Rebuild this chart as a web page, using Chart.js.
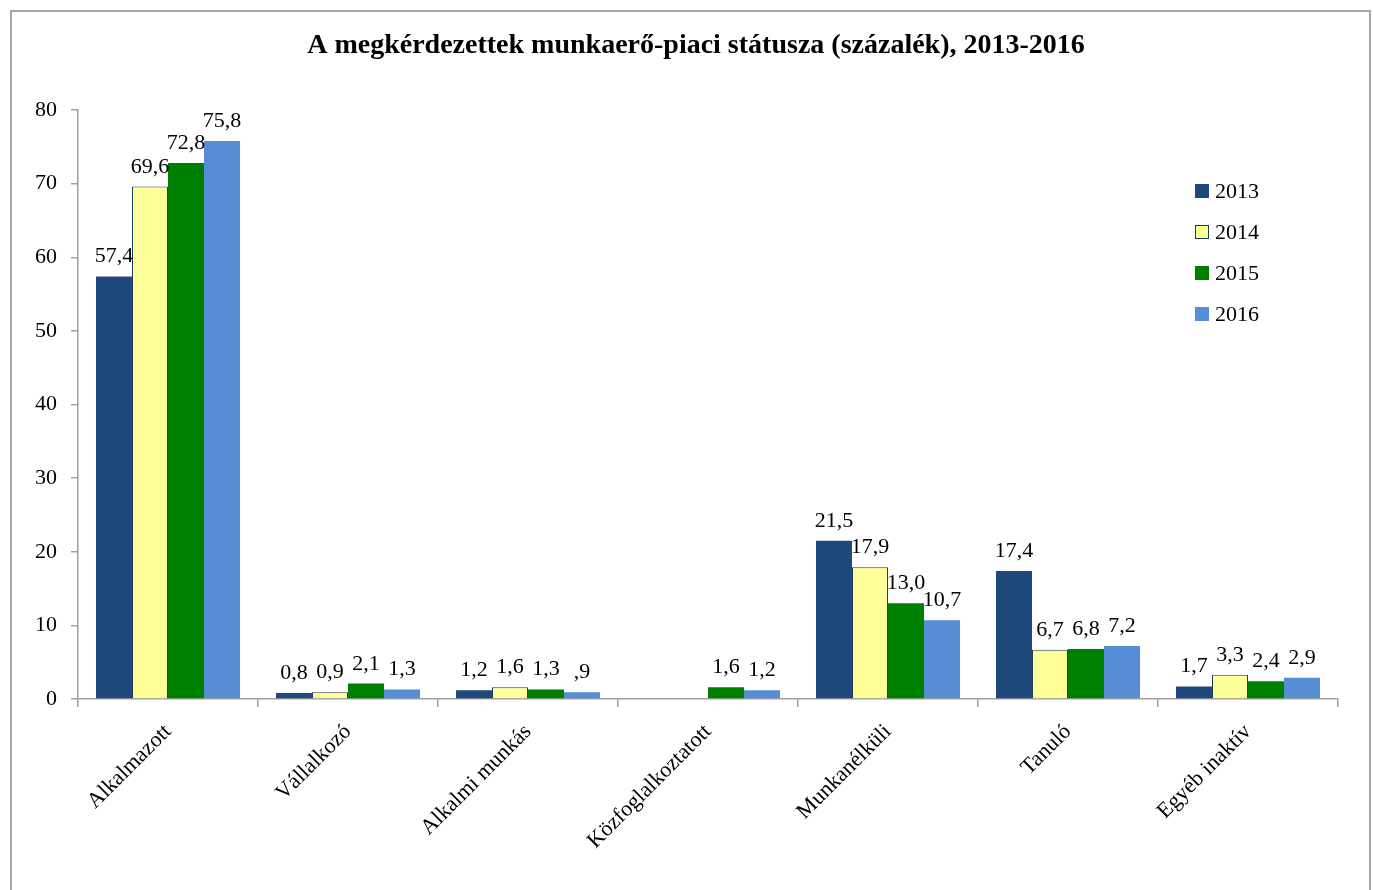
<!DOCTYPE html>
<html>
<head>
<meta charset="utf-8">
<script src="https://cdn.jsdelivr.net/npm/chart.js@4"></script>
<style>
  html, body { margin: 0; padding: 0; background: #fff; }
  #wrap { width: 1373px; height: 890px; position: relative; }
</style>
</head>
<body>
<div id="wrap"><canvas id="chart" width="1373" height="890"></canvas></div>
<script>
const categories = ['Alkalmazott', 'Vállalkozó', 'Alkalmi munkás', 'Közfoglalkoztatott', 'Munkanélküli', 'Tanuló', 'Egyéb inaktív'];
const years = ['2013', '2014', '2015', '2016'];
const values2013 = [57.4, 0.8, 1.2, null, 21.5, 17.4, 1.7];
const values2014 = [69.6, 0.9, 1.6, null, 17.9, 6.7, 3.3];
const values2015 = [72.8, 2.1, 1.3, 1.6, 13.0, 6.8, 2.4];
const values2016 = [75.8, 1.3, 0.9, 1.2, 10.7, 7.2, 2.9];
const yTicks = [0, 10, 20, 30, 40, 50, 60, 70, 80];
// the source prints this one label without the leading zero
const labelOverrides = { '3-2': ',9' };

const FONT = "'Liberation Serif', serif";

function fmt(v) {
    return v.toFixed(1).replace('.', ',');
}

const valueLabels = {
    id: 'valueLabels',
    afterDatasetsDraw(chart) {
        const ctx = chart.ctx;
        ctx.save();
        ctx.font = "22px " + FONT;
        ctx.fillStyle = '#000';
        ctx.textAlign = 'center';
        ctx.textBaseline = 'alphabetic';
        chart.data.datasets.forEach((ds, di) => {
            chart.getDatasetMeta(di).data.forEach((bar, i) => {
                const v = ds.data[i];
                if (v == null) return;
                const txt = labelOverrides[di + '-' + i] || fmt(v);
                ctx.fillText(txt, bar.x, bar.y - 14);
            });
        });
        ctx.restore();
    }
};

const frameAndLegend = {
    id: 'frameAndLegend',
    afterDraw(chart) {
        const ctx = chart.ctx;
        ctx.save();
        // outer frame
        ctx.strokeStyle = '#a6a6a6';
        ctx.lineWidth = 2;
        ctx.strokeRect(11, 11, 1359, 900);
        // title
        ctx.fillStyle = '#000';
        ctx.font = "bold 28px " + FONT;
        ctx.textAlign = 'center';
        ctx.textBaseline = 'middle';
        ctx.fillText('A megkérdezettek munkaerő-piaci státusza (százalék), 2013-2016', 696, 46);
        // legend
        ctx.font = "22px " + FONT;
        ctx.textAlign = 'left';
        chart.data.datasets.forEach((ds, i) => {
            const y = 191 + i * 41;
            ctx.fillStyle = ds.backgroundColor;
            ctx.fillRect(1195, y - 7, 14, 14);
            if (ds.borderWidth) {
                ctx.strokeStyle = ds.borderColor;
                ctx.lineWidth = 1;
                ctx.strokeRect(1195.5, y - 6.5, 13, 13);
            }
            ctx.fillStyle = '#000';
            ctx.fillText(ds.label, 1215, y + 1);
        });
        ctx.restore();
    }
};

const data = {
    labels: categories,
    datasets: [{
        label: years[0],
        data: values2013,
        backgroundColor: '#1f497d',
        borderWidth: 0
    },
    {
        label: years[1],
        data: values2014,
        backgroundColor: '#ffff99',
        borderColor: '#1f3b5c',
        borderWidth: 1
    },
    {
        label: years[2],
        data: values2015,
        backgroundColor: '#008000',
        borderWidth: 0
    },
    {
        label: years[3],
        data: values2016,
        backgroundColor: '#558ed5',
        borderWidth: 0
    }]
};

const config = {
    type: 'bar',
    data: data,
    options: {
        responsive: false,
        animation: false,
        layout: { padding: { left: 20, right: 35, top: 110, bottom: 0 } },
        datasets: { bar: { categoryPercentage: 0.8, barPercentage: 1.0 } },
        plugins: {
            legend: { display: false },
            title: { display: false },
            tooltip: { enabled: false }
        },
        scales: {
            x: {
                grid: { offset: true, drawOnChartArea: false, drawTicks: true, tickLength: 8, color: '#a0a0a0', lineWidth: 1.5 },
                border: { color: '#a0a0a0', width: 1.5 },
                ticks: {
                    font: { family: FONT, size: 22 },
                    color: '#000',
                    minRotation: 45,
                    maxRotation: 45,
                    padding: 12
                },
                afterFit(scale) { scale.height = 191; }
            },
            y: {
                min: 0,
                max: 80,
                afterBuildTicks(scale) { scale.ticks = yTicks.map(v => ({ value: v })); },
                grid: { drawOnChartArea: false, drawTicks: true, tickLength: 7, color: '#a0a0a0', lineWidth: 1.5 },
                border: { color: '#a0a0a0', width: 1.5 },
                ticks: {
                    font: { family: FONT, size: 22 },
                    color: '#000',
                    padding: 14
                },
                afterFit(scale) { scale.width = 58; }
            }
        }
    },
    plugins: [valueLabels, frameAndLegend]
};

window.chart = new Chart(document.getElementById('chart').getContext('2d'), config);
</script>
</body>
</html>
